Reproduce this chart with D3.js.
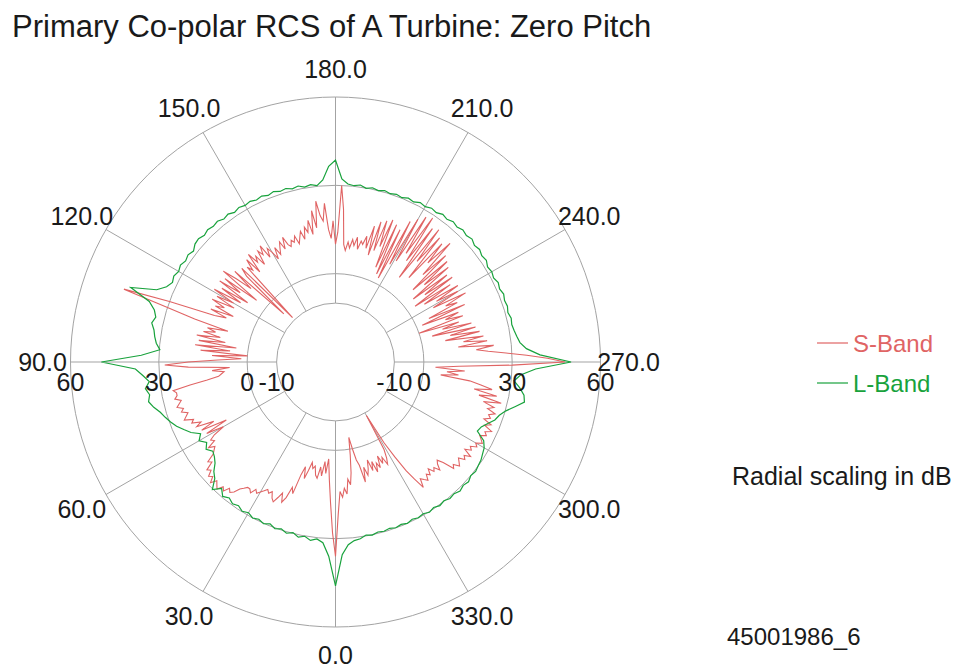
<!DOCTYPE html>
<html><head><meta charset="utf-8">
<script src="https://cdn.jsdelivr.net/npm/d3@7"></script>
<style>
html,body{margin:0;padding:0;background:#fff;}
svg{display:block;font-family:"Liberation Sans",Arial,sans-serif;}
</style></head>
<body>
<svg id="chart" width="962" height="668"></svg>
<script>
const titleText = "Primary Co-polar RCS of A Turbine: Zero Pitch";
const angleTicks = [0, 30, 60, 90, 120, 150, 180, 210, 240, 270, 300, 330];
const angleTickLabels = ["0.0","30.0","60.0","90.0","120.0","150.0","180.0","210.0","240.0","270.0","300.0","330.0"];
const ringValues = [-10, 0, 30, 60];
const ringLabels = ["-10", "0", "30", "60"];
const seriesNames = ["S-Band", "L-Band"];

// S-Band, 1 degree steps 0..359 (dB)
const sBandValues = [
 36,28,18,10,3,8,4,9,6,10,
 9,6,7,5,8,11,7,10,17,15,
 19,21,18,20,22,21,19,20,19,20,
 21,22,21,23,22,22,23,24,26,27,
 26,28,27,29,28,27,29,27,28,26,
 27,24,25,22,21,20,22,19,20,18,
 14,20,12,21,16,22,20,23,22,25,
 24,23,25,24,26,25,24,26,25,25,
 26,20,14,10,9,8,12,6,20,28,
 20,10,2,12,0,16,6,18,4,17,
 8,18,10,16,12,15,8,20,30,46,
 30,14,10,16,8,15,12,17,9,16,
 10,18,8,16,6,18,10,17,4,19,
 14,8,16,-6,12,15,-9,14,12,16,
 10,17,13,15,11,16,14,17,12,15,
 13,10,14,11,13,15,12,16,13,12,
 14,13,15,12,14,16,13,17,15,19,
 14,22,16,25,20,18,24,15,12,18,
 10,14,30,22,10,8,11,9,12,10,
 13,9,12,11,14,10,18,8,20,10,
 21,12,22,5,21,3,20,2,24,8,
 26,10,28,14,29,12,26,6,27,14,
 25,8,24,16,26,12,22,6,21,10,
 20,4,18,8,19,3,17,6,19,10,
 18,8,20,12,16,5,18,2,15,10,
 16,0,14,8,18,4,19,10,20,8,
 21,14,22,12,24,18,22,28,35,42,
 48,30,12,4,14,8,12,6,16,20,
 24,18,26,20,28,22,26,24,27,25,
 26,24,27,25,28,26,27,25,26,27,
 25,26,24,25,23,26,24,25,23,24,
 25,23,24,20,18,19,21,19,20,18,
 20,19,21,20,19,22,18,14,8,2,
 -9,4,7,9,6,8,5,9,7,10,
 6,9,5,8,10,7,12,6,4,0,
 -4,2,8,12,10,15,13,16,14,22
];

// L-Band, 2 degree steps 0..358 (dB)
const lBandValues = [
 46,36,31.5,30.4,31.2,30.1,30.8,29.7,30.5,29.6,
 30.2,29.3,30.1,29.4,30.0,29.1,29.8,28.9,29.5,28.6,
 29.6,27.8,30.2,27.0,25.6,23.4,22.2,21.5,23.0,21.6,
 23.5,21.9,24.6,26.4,28.2,29.6,30.8,31.9,33.6,34.9,
 34.1,35.2,33.6,35.6,38.0,49.5,36.0,29.8,31.2,32.0,
 32.6,33.8,32.9,34.0,36.5,44.0,35.5,32.8,31.6,32.2,
 31.5,32.1,31.4,31.9,31.2,32.3,32.6,31.9,32.5,32.0,
 32.4,31.6,32.1,31.3,31.9,31.4,31.8,31.2,31.7,31.0,
 31.6,30.9,31.3,30.6,31.1,30.3,30.8,30.2,32.0,36.5,
 38.6,32.2,30.6,30.2,30.7,29.9,30.5,30.0,30.6,30.1,
 30.6,30.2,30.9,30.5,31.3,30.9,31.6,31.2,32.0,31.5,
 32.2,31.7,32.3,31.8,32.4,31.6,32.1,31.4,31.8,30.9,
 31.3,30.8,31.5,31.0,31.6,31.1,31.4,30.9,31.5,31.2,
 31.6,32.2,33.0,35.0,39.5,50.0,38.0,33.0,31.0,33.2,
 35.0,35.6,32.8,30.2,28.5,27.6,25.8,24.2,23.6,27.0,
 28.3,28.9,29.6,29.9,30.4,30.0,30.8,30.3,30.9,30.2,
 30.5,29.8,30.3,29.6,30.2,29.5,29.9,29.4,30.0,29.5,
 29.9,29.4,29.8,29.5,30.1,29.7,30.6,31.0,32.2,35.5
];
const sBandAngles = d3.range(0, 360, 1);
const lBandAngles = d3.range(0, 360, 2);

const extraTexts = ["Radial scaling in dB", "45001986_6"];

const colors = {s: "#e06464", l: "#18a23c", grid: "#a3a3a3", text: "#1a1a1a"};
const cx = 335.5, cy = 362, R = 265;

const svg = d3.select("#chart");
const rScale = d3.scaleLinear().domain([-30, 60]).range([0, R]);
// 0 deg at bottom, increasing clockwise (bottom -> left -> top -> right)
const aScale = d3.scaleLinear().domain([0, 360]).range([Math.PI, 3 * Math.PI]);
const pt = (deg, r) => {
  const a = aScale(deg);
  return [cx + r * Math.sin(a), cy - r * Math.cos(a)];
};

svg.append("text").attr("x", 12).attr("y", 37)
  .attr("font-size", 31).attr("fill", colors.text).text(titleText);

const g = svg.append("g");
g.selectAll("circle.ring").data(ringValues).join("circle")
  .attr("cx", cx).attr("cy", cy).attr("r", d => rScale(d))
  .attr("fill", "none").attr("stroke", colors.grid).attr("stroke-width", 1);
g.selectAll("line.spoke").data(angleTicks).join("line")
  .attr("x1", d => pt(d, rScale(-10))[0]).attr("y1", d => pt(d, rScale(-10))[1])
  .attr("x2", d => pt(d, rScale(60))[0]).attr("y2", d => pt(d, rScale(60))[1])
  .attr("stroke", colors.grid).attr("stroke-width", 1);

const line = d3.lineRadial()
  .angle(d => aScale(d[0]))
  .radius(d => rScale(Math.max(-10, d[1])))
  .curve(d3.curveLinearClosed);
const plot = svg.append("g").attr("transform", `translate(${cx},${cy})`);
plot.append("path").datum(sBandAngles.map((a, i) => [a, sBandValues[i]]))
  .attr("d", line).attr("fill", "none").attr("stroke", colors.s).attr("stroke-width", 1.1);
plot.append("path").datum(lBandAngles.map((a, i) => [a, lBandValues[i]]))
  .attr("d", line).attr("fill", "none").attr("stroke", colors.l).attr("stroke-width", 1.2);

svg.selectAll("text.ang").data(angleTicks).join("text")
  .attr("x", d => pt(d, R + 28)[0]).attr("y", d => pt(d, R + 28)[1])
  .attr("text-anchor", "middle").attr("dy", "0.36em")
  .attr("font-size", 25).attr("fill", colors.text)
  .text((d, i) => angleTickLabels[i]);

[90, 270].forEach(side => {
  svg.selectAll(null).data(ringValues).join("text")
    .attr("x", d => pt(side, rScale(d))[0])
    .attr("y", cy + 29)
    .attr("text-anchor", "middle")
    .attr("font-size", 25).attr("fill", colors.text)
    .text((d, i) => ringLabels[i]);
});

const leg = svg.append("g");
[{n: seriesNames[0], c: colors.s, y: 343}, {n: seriesNames[1], c: colors.l, y: 383}].forEach(d => {
  leg.append("line").attr("x1", 817).attr("x2", 848).attr("y1", d.y).attr("y2", d.y)
    .attr("stroke", d.c).attr("stroke-width", 1.2);
  leg.append("text").attr("x", 853).attr("y", d.y + 9).attr("font-size", 24)
    .attr("fill", d.c).text(d.n);
});

svg.append("text").attr("x", 732).attr("y", 485).attr("font-size", 25)
  .attr("fill", colors.text).text(extraTexts[0]);
svg.append("text").attr("x", 727).attr("y", 645).attr("font-size", 24)
  .attr("fill", colors.text).text(extraTexts[1]);
</script>
</body></html>
